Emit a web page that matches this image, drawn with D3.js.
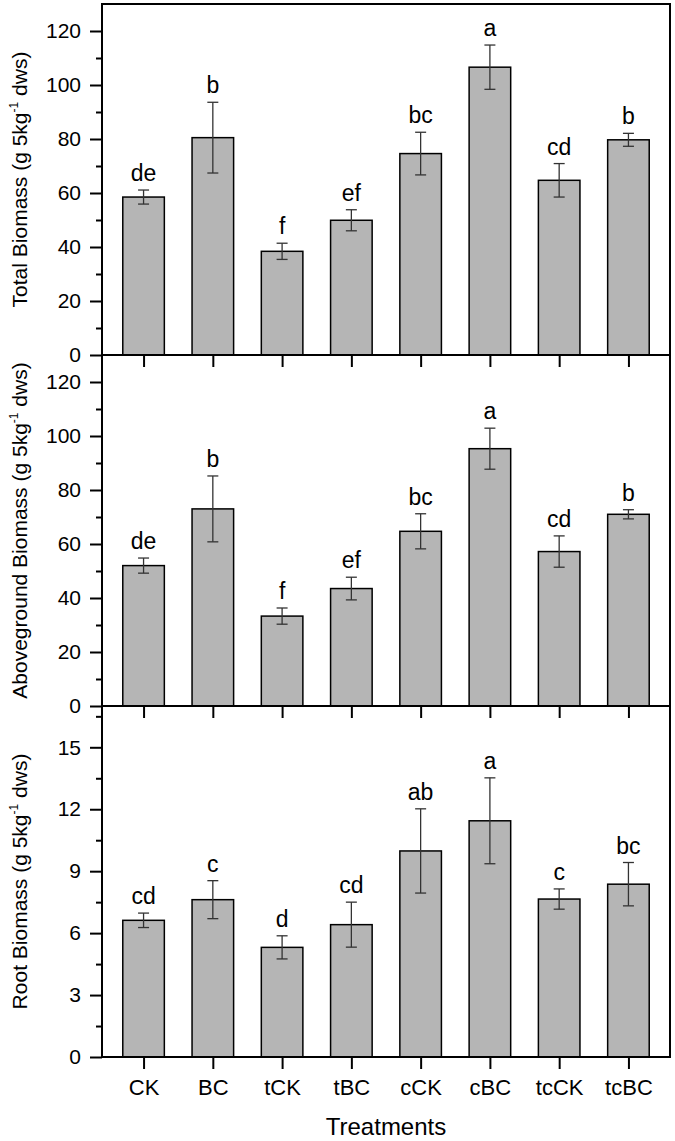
<!DOCTYPE html>
<html>
<head>
<meta charset="utf-8">
<script src="https://cdn.jsdelivr.net/npm/d3@7"></script>
<style>
  body { margin: 0; background: #fff; }
  text { font-family: 'Liberation Sans', Arial, sans-serif; fill: #000; }
</style>
</head>
<body>
<div id="chartbox"></div>
<script>

const categories = ['CK', 'BC', 'tCK', 'tBC', 'cCK', 'cBC', 'tcCK', 'tcBC']

const totalMean = [58.5, 80.5, 38.4, 49.9, 74.6, 106.6, 64.7, 79.7]
const totalErr = [2.6, 13.1, 3.0, 3.9, 7.9, 8.2, 6.2, 2.4]
const totalLetters = ['de', 'b', 'f', 'ef', 'bc', 'a', 'cd', 'b']

const aboveMean = [52.0, 73.0, 33.3, 43.5, 64.7, 95.3, 57.2, 71.0]
const aboveErr = [2.8, 12.2, 3.0, 4.2, 6.5, 7.6, 5.8, 1.7]
const aboveLetters = ['de', 'b', 'f', 'ef', 'bc', 'a', 'cd', 'b']

const rootMean = [6.62, 7.62, 5.31, 6.41, 9.98, 11.44, 7.65, 8.37]
const rootErr = [0.35, 0.92, 0.56, 1.09, 2.04, 2.08, 0.49, 1.05]
const rootLetters = ['cd', 'c', 'd', 'cd', 'ab', 'a', 'c', 'bc']

const biomassTicks = [0, 20, 40, 60, 80, 100, 120]
const biomassMinor = [10, 30, 50, 70, 90, 110]
const rootTicks = [0, 3, 6, 9, 12, 15]
const rootMinor = [1.5, 4.5, 7.5, 10.5, 13.5, 16.5]

const panels = [
  { title: 'Total Biomass', mean: totalMean, err: totalErr, letters: totalLetters, max: 130, ticks: biomassTicks, minor: biomassMinor },
  { title: 'Aboveground Biomass', mean: aboveMean, err: aboveErr, letters: aboveLetters, max: 130, ticks: biomassTicks, minor: biomassMinor },
  { title: 'Root Biomass', mean: rootMean, err: rootErr, letters: rootLetters, max: 17, ticks: rootTicks, minor: rootMinor }
]

const plotLeft = 102, plotRight = 670, plotTop = 4, ph = 351

const svg = d3.select('#chartbox')
  .append('svg')
  .attr('width', 675)
  .attr('height', 1141)

const x = d3.scalePoint()
  .domain(categories)
  .range([plotLeft, plotRight])
  .padding(0.6)

const barW = x.step() * 0.6

panels.forEach((p, k) => {

  const y0 = plotTop + k * ph
  const y = d3.scaleLinear()
    .domain([0, p.max])
    .range([y0 + ph, y0])

  const rows = categories.map((c, i) => ({ c: c, m: p.mean[i], e: p.err[i], l: p.letters[i] }))

  const g = svg.append('g')

  g.selectAll('rect.bar')
    .data(rows)
    .enter()
    .append('rect')
    .attr('class', 'bar')
    .attr('x', d => x(d.c) - barW / 2)
    .attr('y', d => y(d.m))
    .attr('width', barW)
    .attr('height', d => y(0) - y(d.m))
    .attr('fill', '#b5b5b5')
    .attr('stroke', '#000')
    .attr('stroke-width', 1.5)

  const eb = g.selectAll('g.err')
    .data(rows)
    .enter()
    .append('g')
    .attr('stroke', '#333')
    .attr('stroke-width', 1.3)

  eb.append('line')
    .attr('x1', d => x(d.c))
    .attr('x2', d => x(d.c))
    .attr('y1', d => y(d.m - d.e))
    .attr('y2', d => y(d.m + d.e))

  eb.append('line')
    .attr('x1', d => x(d.c) - 5.5)
    .attr('x2', d => x(d.c) + 5.5)
    .attr('y1', d => y(d.m + d.e))
    .attr('y2', d => y(d.m + d.e))

  eb.append('line')
    .attr('x1', d => x(d.c) - 5.5)
    .attr('x2', d => x(d.c) + 5.5)
    .attr('y1', d => y(d.m - d.e))
    .attr('y2', d => y(d.m - d.e))

  g.selectAll('text.letter')
    .data(rows)
    .enter()
    .append('text')
    .attr('class', 'letter')
    .attr('x', d => x(d.c))
    .attr('y', d => y(d.m + d.e) - 9)
    .attr('text-anchor', 'middle')
    .attr('font-size', 23)
    .text(d => d.l)

  // y axis, major then minor ticks
  g.append('g')
    .attr('transform', 'translate(' + plotLeft + ',0)')
    .call(d3.axisLeft(y).tickValues(p.ticks).tickSize(12).tickPadding(9).tickFormat(d3.format('d')))
    .call(a => a.select('.domain').remove())
    .call(a => a.selectAll('line').attr('stroke', '#000').attr('stroke-width', 2))
    .call(a => a.selectAll('text').attr('font-size', 21).attr('font-family', null).attr('fill', '#000'))

  g.append('g')
    .attr('transform', 'translate(' + plotLeft + ',0)')
    .call(d3.axisLeft(y).tickValues(p.minor).tickSize(6).tickFormat(''))
    .call(a => a.select('.domain').remove())
    .call(a => a.selectAll('line').attr('stroke', '#000').attr('stroke-width', 2))

  // x axis ticks at bottom of every panel
  const xa = g.append('g')
    .attr('transform', 'translate(0,' + (y0 + ph) + ')')
    .call(d3.axisBottom(x).tickSize(12).tickPadding(10))
    .call(a => a.select('.domain').remove())
    .call(a => a.selectAll('line').attr('stroke', '#000').attr('stroke-width', 2))

  if (k < panels.length - 1) {
    xa.selectAll('text').remove()
  } else {
    xa.selectAll('text').attr('font-size', 22).attr('font-family', null).attr('fill', '#000')
  }

  g.append('rect')
    .attr('x', plotLeft)
    .attr('y', y0)
    .attr('width', plotRight - plotLeft)
    .attr('height', ph)
    .attr('fill', 'none')
    .attr('stroke', '#000')
    .attr('stroke-width', 2)

  const title = g.append('text')
    .attr('transform', 'translate(27,' + (y0 + ph / 2) + ') rotate(-90)')
    .attr('text-anchor', 'middle')
    .attr('font-size', 21)

  title.append('tspan').text(p.title + ' (g 5kg')
  title.append('tspan').attr('dy', -9).attr('font-size', 12).text('-1')
  title.append('tspan').attr('dy', 9).text(' dws)')
})

svg.append('text')
  .attr('x', (plotLeft + plotRight) / 2)
  .attr('y', 1135)
  .attr('text-anchor', 'middle')
  .attr('font-size', 24)
  .text('Treatments')

</script>
</body>
</html>
